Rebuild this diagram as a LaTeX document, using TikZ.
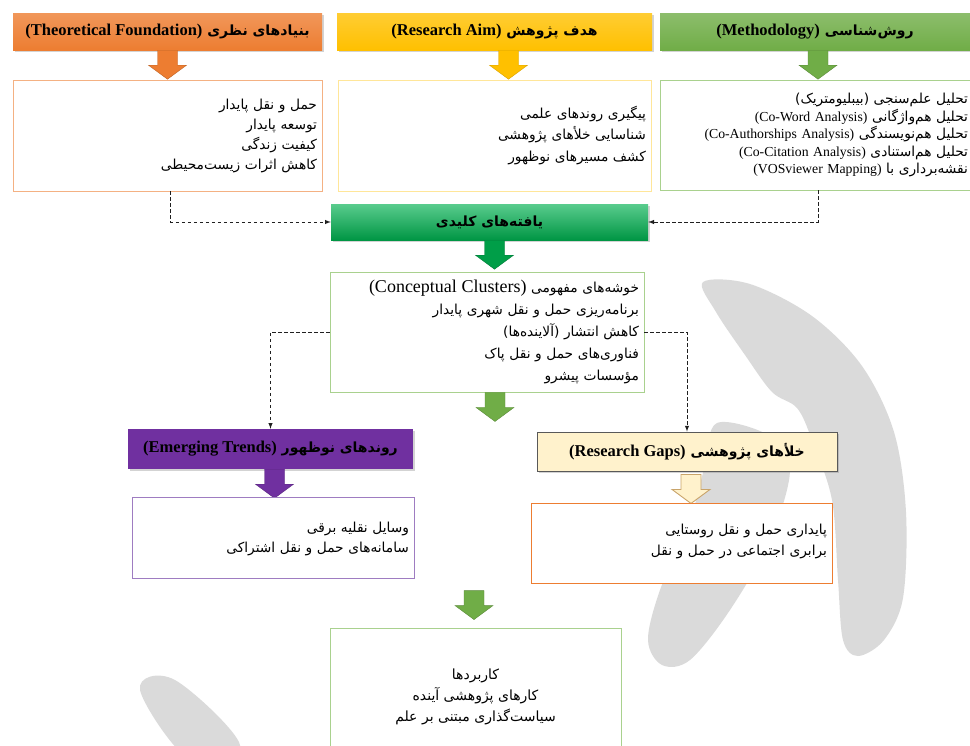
\documentclass[tikz,border=0pt]{standalone}
\usepackage{fontspec}
\setmainfont{Liberation Serif}
\newfontfamily\farsi[Script=Arabic]{DejaVu Sans}
\TeXXeTstate=1
\usetikzlibrary{shadows}

% Persian line and Latin part inside it
\newcommand{\fa}[1]{{\farsi\beginR #1\endR}}
\newcommand{\en}[2][13.75]{\beginL{\rmfamily\fontsize{#1}{#1}\selectfont #2}\endL}
% fat block arrow pointing down from a start point
\newcommand{\fatarrow}[2]{%
  \filldraw[#2] #1 ++(-10,0) -- ++(20,0) -- ++(0,15) -- ++(9,0) -- ++(-19,14) -- ++(-19,-14) -- ++(9,0) -- cycle;}

\begin{document}
\begin{tikzpicture}[x=1pt, y=-1pt, >=latex,
  hdr/.style={minimum height=37pt, inner sep=2pt, font=\bfseries\fontsize{14}{16}\selectfont,
    drop shadow={shadow xshift=1.5pt, shadow yshift=-2pt, opacity=0.35}},
  infobox/.style={draw, line width=0.9pt, fill=white, align=right, inner xsep=5pt,
    font=\fontsize{13.75}{20}\selectfont},
  linkline/.style={->, dash pattern=on 3.5pt off 2.5pt, gray!25!black, line width=1pt},
]
% Define colors
\definecolor{thorange}{HTML}{ED7D31}
\definecolor{thlight}{HTML}{F4B183}
\definecolor{aimgold}{HTML}{FFC000}
\definecolor{aimlight}{HTML}{FFE699}
\definecolor{methgreen}{HTML}{70AD47}
\definecolor{methlight}{HTML}{A9D18E}
\definecolor{keygreen}{HTML}{00B050}
\definecolor{trendpurple}{HTML}{7030A0}
\definecolor{trendlight}{HTML}{9E7CC1}
\definecolor{gapcream}{HTML}{FFF2CC}
\definecolor{gapborder}{HTML}{595959}
\definecolor{gaparrow}{HTML}{C9A46A}
\definecolor{marklight}{HTML}{DADADA}

\useasboundingbox (0,0) rectangle (970,745);

% Watermark
\fill[marklight] plot[smooth cycle, tension=0.55] coordinates {(703,282) (750,284) (812,316) (862,366) (894,432) (906,512) (903,598) (884,640) (858,656) (843,640) (838,580) (832,500) (812,440) (797,408) (772,392) (745,355) (716,312)};
\fill[marklight] plot[smooth cycle, tension=0.55] coordinates {(717,423) (770,436) (790,470) (770,540) (730,610) (690,660) (662,665) (648,640) (660,590) (690,520) (705,465)};
\fill[marklight] plot[smooth cycle, tension=0.6] coordinates {(140,690) (175,680) (240,745) (190,760)};

% Top row: headers
\node[hdr, top color=thorange!80!white, bottom color=thorange, minimum width=309pt] (thhdr) at (167.5,31.5)
  {\fa{بنیادهای نظری \en[16.5]{(Theoretical Foundation)}}};
\node[hdr, top color=aimgold!80!white, bottom color=aimgold, minimum width=315pt] (aimhdr) at (494.5,31.5)
  {\fa{هدف پژوهش \en[16.5]{(Research Aim)}}};
\node[hdr, top color=methgreen!80!white, bottom color=methgreen, minimum width=310pt] (methhdr) at (815,31.5)
  {\fa{روش‌شناسی \en[16.5]{(Methodology)}}};

% Top row: contents
\node[infobox, draw=thlight, minimum height=111pt, text width=299pt] (thbox) at (167.5,135.5)
  {\fa{حمل و نقل پایدار}\\ \fa{توسعه پایدار}\\ \fa{کیفیت زندگی}\\ \fa{کاهش اثرات زیست‌محیطی}};
\node[infobox, draw=aimlight, minimum height=111pt, text width=303pt, font=\fontsize{13.75}{21.5}\selectfont] (aimbox) at (494.5,135.5)
  {\fa{پیگیری روندهای علمی}\\ \fa{شناسایی خلأهای پژوهشی}\\ \fa{کشف مسیرهای نوظهور}};
\node[infobox, draw=methlight, minimum height=110pt, text width=306pt, inner xsep=2pt,
  font=\fontsize{13.75}{17.5}\selectfont] (methbox) at (815,135)
  {\fa{تحلیل علم‌سنجی (بیبلیومتریک)}\\
   \fa{تحلیل هم‌واژگانی \en{(Co-Word Analysis)}}\\
   \fa{تحلیل هم‌نویسندگی \en{(Co-Authorships Analysis)}}\\
   \fa{تحلیل هم‌استنادی \en{(Co-Citation Analysis)}}\\
   \fa{نقشه‌برداری با \en{(VOSviewer Mapping)}}};

\fatarrow{(thhdr.south)}{fill=thorange, draw=thorange!80!black}
\fatarrow{([xshift=14pt]aimhdr.south)}{fill=aimgold, draw=aimgold!85!black}
\fatarrow{([xshift=3pt]methhdr.south)}{fill=methgreen, draw=methgreen!80!black}

% Key findings
\node[hdr, top color=keygreen!65!white, bottom color=keygreen!85!black, minimum width=317pt, minimum height=36pt] (keyhdr) at (489.5,222)
  {\fa{یافته‌های کلیدی}};
\draw[linkline] ([xshift=3pt]thbox.south) |- (keyhdr.west);
\draw[linkline] ([xshift=3pt]methbox.south) |- (keyhdr.east);
\fatarrow{([xshift=5pt]keyhdr.south)}{fill=keygreen!90!black, draw=keygreen!70!black}

\node[infobox, draw=methlight, minimum height=120pt, text width=304pt, font=\fontsize{13.75}{22}\selectfont] (clusterbox) at (487,332)
  {\fa{خوشه‌های مفهومی \en[18]{(Conceptual Clusters)}}\\
   \fa{برنامه‌ریزی حمل و نقل شهری پایدار}\\
   \fa{کاهش انتشار (آلاینده‌ها)}\\
   \fa{فناوری‌های حمل و نقل پاک}\\
   \fa{مؤسسات پیشرو}};
\fatarrow{([xshift=8pt]clusterbox.south)}{fill=methgreen, draw=methgreen!80!black}

% Emerging trends
\node[hdr, fill=trendpurple, minimum width=285pt, minimum height=40pt] (trendhdr) at (270.5,449)
  {\fa{روندهای نوظهور \en[16.5]{(Emerging Trends)}}};
\draw[linkline] (clusterbox.west) -| (trendhdr.north);
\fatarrow{([xshift=4pt]trendhdr.south)}{fill=trendpurple, draw=trendpurple!80!black}
\node[infobox, draw=trendlight, minimum height=81pt, text width=272pt, text depth=20pt] (trendbox) at (273,537.5)
  {\fa{وسایل نقلیه برقی}\\ \fa{سامانه‌های حمل و نقل اشتراکی}};

% Research gaps
\node[hdr, fill=gapcream, draw=gapborder, line width=0.9pt, minimum width=300pt, minimum height=39pt] (gaphdr) at (687,451.5)
  {\fa{خلأهای پژوهشی \en[16.5]{(Research Gaps)}}};
\draw[linkline] (clusterbox.east) -| (gaphdr.north);
\fatarrow{([xshift=4pt,yshift=-3pt]gaphdr.south)}{fill=gapcream, draw=gaparrow, line width=0.9pt}
\node[infobox, draw=thorange, minimum height=80pt, text width=291pt, text depth=28pt, font=\fontsize{13.75}{21}\selectfont] (gapbox) at (681.5,543)
  {\fa{پایداری حمل و نقل روستایی}\\ \fa{برابری اجتماعی در حمل و نقل}};

% Outcomes
\node[infobox, draw=methlight, minimum height=137pt, minimum width=291pt, align=center, font=\fontsize{14}{21}\selectfont] (outbox) at (475.5,696.5)
  {\fa{کاربردها}\\ \fa{کارهای پژوهشی آینده}\\ \fa{سیاست‌گذاری مبتنی بر علم}};
\fatarrow{([xshift=-1.5pt,yshift=37pt]outbox.north)}{fill=methgreen, draw=methgreen!80!black}

\end{tikzpicture}
\end{document}
